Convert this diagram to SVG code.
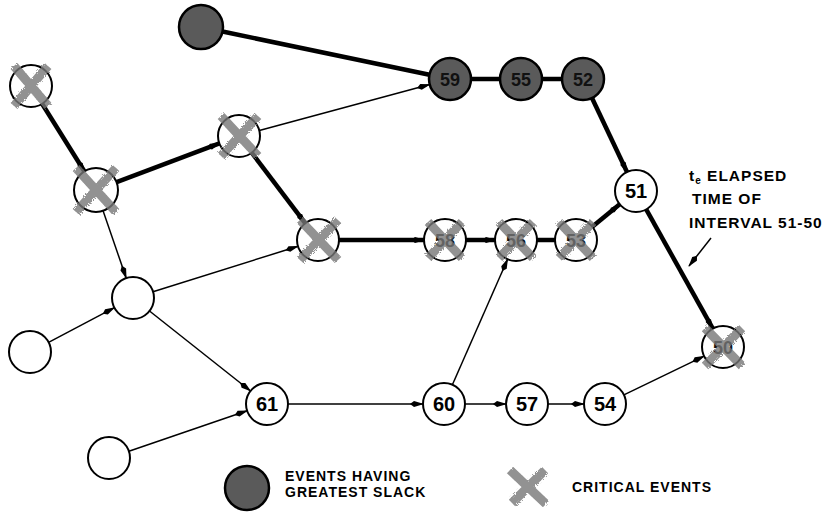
<svg xmlns="http://www.w3.org/2000/svg" width="831" height="512" viewBox="0 0 831 512">
<style>
.n{fill:#fff;stroke:#000;stroke-width:2}
.d{fill:#5a5a5a;stroke:#000;stroke-width:2.5}
.t{font-family:"Liberation Sans",Arial,sans-serif;font-size:20px;font-weight:bold;text-anchor:middle;fill:#000}
.td{font-family:"Liberation Sans",Arial,sans-serif;font-size:18px;font-weight:bold;text-anchor:middle;fill:#111}
.thin{stroke:#000;stroke-width:1.5;fill:none}
.thick{stroke:#000;stroke-width:4.5;fill:none}
.x{stroke:#777;stroke-width:9;stroke-linecap:butt;fill:none;opacity:0.8}
.lbl{font-family:"Liberation Sans",Arial,sans-serif;font-size:14px;font-weight:bold;letter-spacing:1px;fill:#000}
.ann{font-family:"Liberation Sans",Arial,sans-serif;font-size:15.5px;font-weight:bold;letter-spacing:1px;fill:#000}
</style>
<defs>
<marker id="a" markerUnits="userSpaceOnUse" markerWidth="14" markerHeight="8" refX="13" refY="4" orient="auto">
<path d="M0,4 L4,1 L14,4 L4,7 z" fill="#000"/>
</marker>
<filter id="rough" x="-20%" y="-20%" width="140%" height="140%">
<feTurbulence type="fractalNoise" baseFrequency="0.9" numOctaves="2" seed="3" result="n"/>
<feDisplacementMap in="SourceGraphic" in2="n" scale="4"/>
</filter>
</defs>

<g id="connectors">
<line class="thick" x1="222.5" y1="31.5" x2="429.4" y2="74.7"/>
<line class="thin" x1="259.3" y1="130.5" x2="429.7" y2="84.5" marker-end="url(#a)"/>
<line class="thick" x1="42.1" y1="103.8" x2="84.9" y2="172.2" marker-end="url(#a)"/>
<line class="thick" x1="116.6" y1="182.2" x2="219.4" y2="143.4" marker-end="url(#a)"/>
<line class="thick" x1="251.7" y1="152.7" x2="305.3" y2="223.3" marker-end="url(#a)"/>
<line class="thick" x1="339" y1="240" x2="424" y2="240" marker-end="url(#a)"/>
<line class="thick" x1="466" y1="240" x2="495" y2="240" marker-end="url(#a)"/>
<line class="thick" x1="537" y1="240" x2="555" y2="240"/>
<line class="thick" x1="592.3" y1="226.7" x2="619.7" y2="204.3" marker-end="url(#a)"/>
<line class="thick" x1="471" y1="79" x2="500" y2="79"/>
<line class="thick" x1="542" y1="79" x2="562" y2="79"/>
<line class="thick" x1="592" y1="98" x2="627" y2="172" marker-end="url(#a)"/>
<line class="thick" x1="646.2" y1="209.3" x2="712.8" y2="328.7" marker-end="url(#a)"/>
<line class="thin" x1="102.8" y1="209.9" x2="126.2" y2="278.1" marker-end="url(#a)"/>
<line class="thin" x1="153" y1="291.7" x2="298" y2="246.3" marker-end="url(#a)"/>
<line class="thin" x1="48.6" y1="342.3" x2="114.4" y2="307.7" marker-end="url(#a)"/>
<line class="thin" x1="149.5" y1="311" x2="250.5" y2="391" marker-end="url(#a)"/>
<line class="thin" x1="128.9" y1="451.2" x2="247.1" y2="410.8" marker-end="url(#a)"/>
<line class="thin" x1="288" y1="404" x2="423" y2="404" marker-end="url(#a)"/>
<line class="thin" x1="465" y1="404" x2="506" y2="404" marker-end="url(#a)"/>
<line class="thin" x1="548" y1="404" x2="584" y2="404" marker-end="url(#a)"/>
<line class="thin" x1="623.9" y1="394.9" x2="704.1" y2="356.1" marker-end="url(#a)"/>
<line class="thin" x1="452.4" y1="384.8" x2="507.6" y2="259.2" marker-end="url(#a)"/>
<line class="thin" x1="711" y1="238" x2="689" y2="266" marker-end="url(#a)"/>
</g>

<g id="nodeA"><circle class="d" cx="201" cy="27" r="22"/></g>
<g id="nodeB"><circle class="n" cx="31" cy="86" r="21"/><path class="x" filter="url(#rough)" d="M14,66 L48,106 M48,66 L14,106"/></g>
<g id="nodeC"><circle class="n" cx="96" cy="190" r="22"/><path class="x" filter="url(#rough)" d="M76,168 L116,212 M116,168 L76,212"/></g>
<g id="nodeD"><circle class="n" cx="239" cy="136" r="21"/><path class="x" filter="url(#rough)" d="M221,116 L258,156 M258,116 L221,156"/></g>
<g id="nodeE"><circle class="n" cx="318" cy="240" r="21"/><path class="x" filter="url(#rough)" d="M300,220 L338,260 M338,220 L300,260"/></g>
<g id="node59"><circle class="d" cx="450" cy="79" r="21"/><text class="td" x="450" y="86">59</text></g>
<g id="node55"><circle class="d" cx="521" cy="79" r="21"/><text class="td" x="521" y="86">55</text></g>
<g id="node52"><circle class="d" cx="583" cy="79" r="21"/><text class="td" x="583" y="86">52</text></g>
<g id="node51"><circle class="n" cx="636" cy="191" r="21"/><text class="t" x="636" y="198">51</text></g>
<g id="node58"><circle class="n" cx="445" cy="240" r="21"/><text class="td" x="445" y="247">58</text><path class="x" filter="url(#rough)" d="M428,222 L462,258 M462,222 L428,258"/></g>
<g id="node56"><circle class="n" cx="516" cy="240" r="21"/><text class="td" x="516" y="247">56</text><path class="x" filter="url(#rough)" d="M499,222 L533,258 M533,222 L499,258"/></g>
<g id="node53"><circle class="n" cx="576" cy="240" r="21"/><text class="td" x="576" y="247">53</text><path class="x" filter="url(#rough)" d="M559,222 L593,258 M593,222 L559,258"/></g>
<g id="node50"><circle class="n" cx="723" cy="347" r="21"/><text class="td" x="723" y="354">50</text><path class="x" filter="url(#rough)" d="M705,328 L742,366 M742,328 L705,366"/></g>
<g id="nodeF"><circle class="n" cx="133" cy="298" r="21"/></g>
<g id="nodeG"><circle class="n" cx="30" cy="352" r="21"/></g>
<g id="nodeH"><circle class="n" cx="109" cy="458" r="21"/></g>
<g id="node61"><circle class="n" cx="267" cy="404" r="21"/><text class="t" x="267" y="411">61</text></g>
<g id="node60"><circle class="n" cx="444" cy="404" r="21"/><text class="t" x="444" y="411">60</text></g>
<g id="node57"><circle class="n" cx="527" cy="404" r="21"/><text class="t" x="527" y="411">57</text></g>
<g id="node54"><circle class="n" cx="605" cy="404" r="21"/><text class="t" x="605" y="411">54</text></g>

<g id="annotation">
<text class="ann" x="689" y="181">t<tspan font-size="10" dy="3">e</tspan><tspan dy="-3"> ELAPSED</tspan></text>
<text class="ann" x="692" y="204">TIME OF</text>
<text class="ann" x="689" y="228">INTERVAL 51-50</text>
</g>

<g id="legend">
<circle class="d" cx="247" cy="488" r="22" stroke-width="1"/>
<text class="lbl" x="285" y="481">EVENTS HAVING</text>
<text class="lbl" x="285" y="497">GREATEST SLACK</text>
<path class="x" filter="url(#rough)" d="M510,470 L546,504 M545,470 L512,503"/>
<text class="lbl" x="572" y="492">CRITICAL EVENTS</text>
</g>
</svg>
